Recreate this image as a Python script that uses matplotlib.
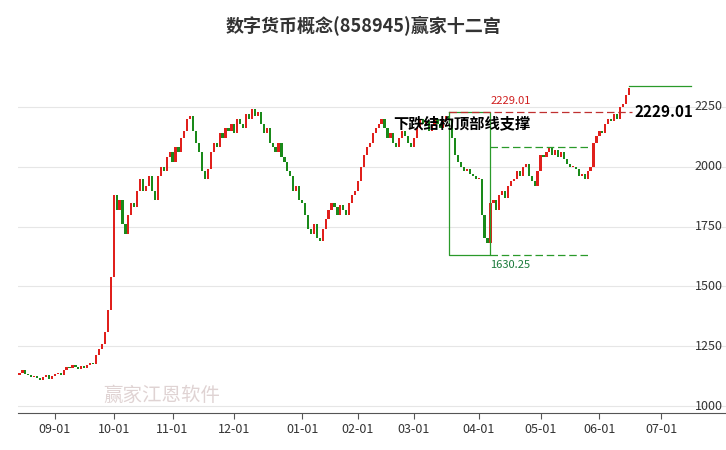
import matplotlib.pyplot as plt
import numpy as np

plt.rcParams['font.family'] = ['Noto Sans CJK SC', 'DejaVu Sans']

# 每日收盘价（按交易日顺序）
closes = [1140, 1150, 1135, 1128, 1120, 1125, 1118, 1110, 1122, 1130, 1115, 1125,
          1132, 1140, 1128, 1150, 1165, 1158, 1170, 1162, 1155, 1168, 1160, 1172, 1180, 1175, 1215, 1240, 1260, 1310, 1400, 1540,
          1880, 1820, 1860, 1760, 1720, 1800, 1850, 1830, 1900, 1950, 1900, 1920, 1960, 1900, 1860, 1960, 2000, 1980, 2040, 2060,
          2020, 2080, 2060, 2120, 2150, 2200, 2210, 2150, 2100, 2060, 1980, 1950, 1990, 2060, 2100, 2080, 2140, 2120, 2160, 2150, 2180,
          2140, 2200, 2180, 2160, 2220, 2200, 2240, 2210, 2230, 2180, 2140, 2160, 2100, 2080, 2060, 2100, 2040, 2020, 1980, 1960, 1900, 1920, 1860,
          1850, 1800, 1740, 1720, 1760, 1700, 1690, 1740, 1780, 1820, 1850, 1830, 1800, 1840, 1820, 1800, 1850, 1880, 1900,
          1940, 2000, 2050, 2080, 2100, 2140, 2160, 2180, 2200, 2160, 2120, 2140, 2100, 2080, 2120, 2150, 2130, 2100, 2080,
          2120, 2160, 2200, 2180, 2190, 2150, 2170, 2200, 2180, 2160, 2190, 2210, 2200, 2120, 2050, 2020, 2000, 1980, 1990, 1970, 1960, 1950,
          1950, 1800, 1700, 1680, 1850, 1860, 1820, 1880, 1900, 1870, 1920, 1940, 1950, 1980, 1960, 2000, 2010, 1960, 1940, 1920, 1980,
          2050, 2040, 2060, 2080, 2050, 2070, 2040, 2060, 2030, 2010, 2000, 2000, 1990, 1960, 1970, 1950, 1980, 2000, 2100, 2130,
          2150, 2140, 2180, 2200, 2190, 2220, 2200, 2250, 2260, 2300, 2330]
opens = [1130] + closes[:-1]

tick_idx = [12, 32, 52, 73, 96, 115, 134, 156, 177, 197, 218]
tick_labels = ['09-01', '10-01', '11-01', '12-01', '01-01', '02-01', '03-01', '04-01', '05-01', '06-01', '07-01']
y_ticks = [1000, 1250, 1500, 1750, 2000, 2250]

support = 2229.01
low_val = 1630.25
box_top = 2229.01
mid_line = 2080
top_line = 2335

fig = plt.figure(figsize=(7.26, 4.5), dpi=100)
ax = fig.add_axes([18 / 726, 37 / 450, 1 - 18 / 726, 373 / 450])
ax.set_xlim(-0.5, 240)
ax.set_ylim(971, 2529)

for v in y_ticks:
    ax.axhline(v, color='#e6e6e6', lw=0.8, zorder=0)
    ax.text(0.995, v, str(v), transform=ax.get_yaxis_transform(), ha='right', va='center', fontsize=9, color='#333333')

x = np.arange(len(closes))
for i in x:
    o, c = opens[i], closes[i]
    col = '#e0201c' if c >= o else '#1a8a1a'
    lo, hi = min(o, c), max(o, c)
    ax.bar(i, max(hi - lo, 4), bottom=lo, width=0.75, color=col, lw=0)

# 形态标注
i0, i1 = 146, 160
ax.plot([i0, i1, i1, i0, i0], [box_top, box_top, low_val, low_val, box_top], color='#2a9a2a', lw=0.9)
ax.plot([i0, 208], [support, support], color='#c03030', lw=0.9, ls=(0, (6, 3)))
ax.plot([i1, 194], [mid_line, mid_line], color='#2a9a2a', lw=0.9, ls=(0, (6, 3)))
ax.plot([i1, 194], [low_val, low_val], color='#2a9a2a', lw=0.9, ls=(0, (6, 3)))
ax.plot([207, 228], [top_line, top_line], color='#2a9a2a', lw=0.9)
ax.text(i1, support + 25, f'{support:.2f}', color='#d02020', fontsize=8, ha='left', va='bottom')
ax.text(i1, low_val - 20, f'{low_val:.2f}', color='#1a7a3a', fontsize=8, ha='left', va='top')
ax.text(209, support, f'{support:.2f}', color='black', fontsize=11, fontweight='bold', ha='left', va='center')
ax.text(127, 2180, '下跌结构顶部线支撑', color='black', fontsize=11, fontweight='bold', ha='left', va='center')

ax.text(0.12, 0.02, '赢家江恩软件', transform=ax.transAxes, fontsize=14, color='#d8c8c8', alpha=0.8, ha='left', va='bottom')

for s in ['top', 'right', 'left']:
    ax.spines[s].set_visible(False)
ax.spines['bottom'].set_color('#555555')
ax.set_yticks([])
ax.set_xticks(tick_idx)
ax.set_xticklabels(tick_labels, fontsize=9, color='#333333')
ax.tick_params(axis='x', length=4, color='#555555')

fig.suptitle('数字货币概念(858945)赢家十二宫', y=0.965, fontsize=13, fontweight='bold', color='#333333')
fig.savefig('out.png', dpi=100)
